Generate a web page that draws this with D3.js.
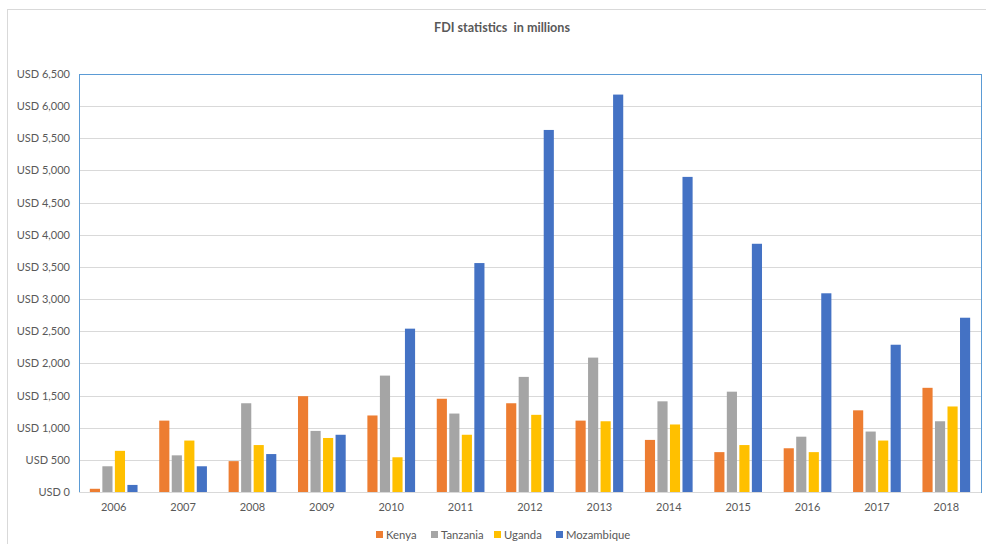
<!DOCTYPE html>
<html>
<head>
<meta charset="utf-8">
<script src="https://cdn.jsdelivr.net/npm/d3@7"></script>
<style>
  html, body { margin: 0; padding: 0; background: #fff; }
  svg text { font-family: Lato, "Open Sans", sans-serif; fill: #595959; }
</style>
</head>
<body>
<svg id="chart" width="986" height="544"></svg>
<script>
// FDI inflows, USD millions
const years = ["2006","2007","2008","2009","2010","2011","2012","2013","2014","2015","2016","2017","2018"];
const seriesNames = ["Kenya", "Tanzania", "Uganda", "Mozambique"];
const kenya      = [50, 1110, 480, 1490, 1190, 1450, 1380, 1110, 810, 620, 680, 1270, 1620];
const tanzania   = [400, 570, 1380, 950, 1810, 1220, 1790, 2090, 1410, 1560, 860, 940, 1100];
const uganda     = [640, 800, 730, 840, 540, 890, 1200, 1100, 1050, 730, 620, 800, 1330];
const mozambique = [110, 400, 590, 890, 2540, 3560, 5630, 6180, 4900, 3860, 3090, 2290, 2710];
const seriesColors = ["#ed7d31", "#a5a5a5", "#ffc000", "#4472c4"];
const yTicks = [0, 500, 1000, 1500, 2000, 2500, 3000, 3500, 4000, 4500, 5000, 5500, 6000, 6500];

const seriesValues = [kenya, tanzania, uganda, mozambique];
const svg = d3.select("#chart");

const plot = { left: 79, right: 981, top: 74, bottom: 492 };

// Outer chart frame
svg.append("rect")
  .attr("x", 7.5).attr("y", 9.5)
  .attr("width", 1000).attr("height", 600)
  .attr("fill", "#fff").attr("stroke", "#d9d9d9");

// Title
svg.append("text")
  .attr("x", 502).attr("y", 32)
  .attr("text-anchor", "middle")
  .style("white-space", "pre")
  .style("font-size", "12.6px").style("font-weight", "bold")
  .text("FDI statistics  in millions");

const y = d3.scaleLinear().domain([0, 6500]).range([plot.bottom, plot.top]);
const x0 = d3.scaleBand().domain(years).range([plot.left, plot.right])
  .paddingInner(0.3125).paddingOuter(0.15625);
const x1 = d3.scaleBand().domain(seriesNames).range([0, x0.bandwidth()])
  .paddingInner(0.19).paddingOuter(0);

// Gridlines
svg.append("g")
  .selectAll("line")
  .data(yTicks.filter(t => t > 0 && t < 6500))
  .join("line")
  .attr("x1", plot.left).attr("x2", plot.right)
  .attr("y1", d => Math.round(y(d)) + 0.5).attr("y2", d => Math.round(y(d)) + 0.5)
  .attr("stroke", "#d9d9d9").attr("stroke-width", 1);

// Plot area border
svg.append("rect")
  .attr("x", plot.left + 0.5).attr("y", plot.top + 0.5)
  .attr("width", plot.right - plot.left).attr("height", plot.bottom - plot.top)
  .attr("fill", "none").attr("stroke", "#5b9bd5").attr("stroke-width", 1);

// Y axis labels
const yAxis = d3.axisLeft(y).tickValues(yTicks).tickSize(0).tickPadding(9)
  .tickFormat(d => "USD " + d3.format(",")(d));
svg.append("g")
  .attr("transform", `translate(${plot.left},0)`)
  .call(yAxis)
  .call(g => g.select(".domain").remove())
  .call(g => g.selectAll("text").style("font-size", "11px").attr("fill", "#595959"));

// Bars
const groups = svg.append("g")
  .selectAll("g")
  .data(years.map((yr, i) => ({ yr, i })))
  .join("g")
  .attr("transform", d => `translate(${x0(d.yr)},0)`);

groups.selectAll("rect")
  .data(d => seriesNames.map((name, s) => ({ name, s, v: seriesValues[s][d.i] })))
  .join("rect")
  .attr("x", d => x1(d.name))
  .attr("width", x1.bandwidth())
  .attr("y", d => y(d.v))
  .attr("height", d => y(0) - y(d.v))
  .attr("fill", d => seriesColors[d.s]);

// X axis baseline and labels
const xAxis = d3.axisBottom(x0).tickSize(0).tickPadding(11);
svg.append("g")
  .attr("transform", `translate(0,${plot.bottom})`)
  .call(xAxis)
  .call(g => g.select(".domain").attr("stroke", "#d9d9d9").attr("d", `M${plot.left},0.5H${plot.right}`))
  .call(g => g.selectAll("text").style("font-size", "11px").attr("fill", "#595959"));

// Legend
const legend = svg.append("g").attr("transform", "translate(0,539)");
const legendX = [376, 431, 494, 556];
const items = legend.selectAll("g")
  .data(seriesNames)
  .join("g")
  .attr("transform", (d, i) => `translate(${legendX[i]},0)`);
items.append("rect")
  .attr("x", 0).attr("y", -8).attr("width", 7).attr("height", 7)
  .attr("fill", (d, i) => seriesColors[i]);
items.append("text")
  .attr("x", 10).attr("y", 0)
  .style("font-size", "11.3px")
  .text(d => d);
</script>
</body>
</html>
